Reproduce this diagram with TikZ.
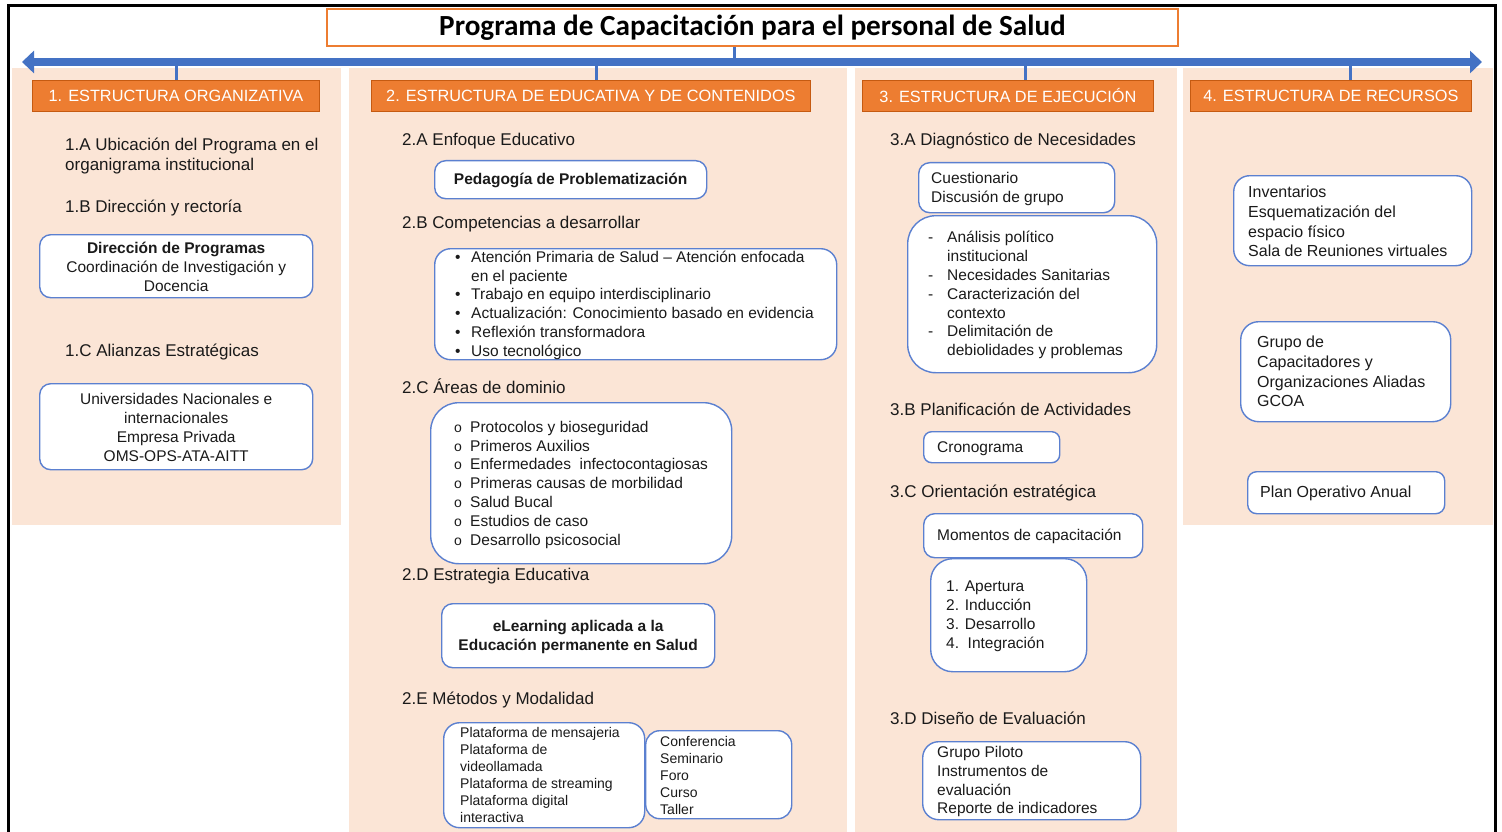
\documentclass[tikz,border=0pt]{standalone}
\usepackage{fontspec}
\setmainfont{Liberation Sans}
\newfontfamily\titlefont{Carlito}
\usetikzlibrary{arrows.meta}
\definecolor{peach}{HTML}{FBE5D6}
\definecolor{orng}{HTML}{ED7D31}
\definecolor{orngdk}{HTML}{C55A11}
\definecolor{bblue}{HTML}{4472C4}
\definecolor{bxblue}{HTML}{5B80D0}
\definecolor{txt}{HTML}{1A1A1A}
\begin{document}
\begin{tikzpicture}[x=1pt,y=-1pt,
  colbg/.style={fill=peach, draw=none},
  sec/.style={anchor=base west, inner sep=0pt, font=\fontsize{17}{20}\selectfont, text=txt},
  hdr/.style={draw=orngdk, line width=0.8pt, fill=orng, text=white, font=\fontsize{16.3}{19}\selectfont, inner sep=0pt, anchor=north west, minimum height=31pt},
  bx/.style={draw=bxblue, line width=1.4pt, fill=white, rounded corners=#1, anchor=north west, inner sep=0pt},
  bx/.default=11pt,
  btxt/.style={anchor=west, inner sep=0pt, align=left, font=\fontsize{15.5}{18.8}\selectfont, text=txt},
  ctxt/.style={anchor=center, inner sep=0pt, align=center, font=\fontsize{15.5}{19}\selectfont, text=txt},
  tick/.style={draw=bblue, line width=3pt},
]
\useasboundingbox (0,0) rectangle (1502,832);
\fill[white] (0,0) rectangle (1502,832);
% column backgrounds
\fill[colbg] (12,68) rectangle (341,525);
\fill[colbg] (349,68) rectangle (847,832);
\fill[colbg] (855,68) rectangle (1177,832);
\fill[colbg] (1183,68) rectangle (1493,525);
% frame
\draw[line width=3pt] (8,832) -- (8,6) -- (1495,6) -- (1495,832);
% title
\node[draw=orng, line width=2pt, fill=white, minimum width=851pt, minimum height=37pt, anchor=north west, inner sep=0pt, font=\titlefont\bfseries\fontsize{29.2}{30}\selectfont, text=black] (ttl) at (326,8) {Programa de Capacitación para el personal de Salud};
% headers
\node[hdr, minimum width=287pt] (h1) at (32,80) {1. ESTRUCTURA ORGANIZATIVA};
\node[hdr, minimum width=439pt] (h2) at (371,80) {2. ESTRUCTURA DE EDUCATIVA Y DE CONTENIDOS};
\node[hdr, minimum width=291pt] (h3) at (862,80) {3. ESTRUCTURA DE EJECUCIÓN};
\node[hdr, minimum width=281pt] (h4) at (1190,80) {4. ESTRUCTURA DE RECURSOS};
% arrow and ticks
\coordinate (aL) at (22,62);
\coordinate (aR) at (1482,62);
\coordinate (t0) at (734,62);
\coordinate (t1) at (176,62);
\coordinate (t2) at (596,62);
\coordinate (t3) at (1025,62);
\coordinate (t4) at (1350,62);
\draw[tick] (t0 |- ttl.south) -- (t0);
\draw[tick] (t1) -- (t1 |- h1.north);
\draw[tick] (t2) -- (t2 |- h2.north);
\draw[tick] (t3) -- (t3 |- h3.north);
\draw[tick] (t4) -- (t4 |- h4.north);
\draw[bblue, line width=8pt, {Triangle[width=22pt,length=12pt]}-{Triangle[width=22pt,length=12pt]}] (aL) -- (aR);

% ---------- column 1
\node[sec] (s1a) at (65,150) {1.A Ubicación del Programa en el};
\node[sec] (s1a2) at (65,171) {organigrama institucional};
\node[sec] (s1b) at (65,212) {1.B Dirección y rectoría};
\node[bx, minimum width=273pt, minimum height=63pt] (dir) at (39,234) {};
\node[ctxt] (dirT) at ([yshift=-1pt]dir.center) {\textbf{Dirección de Programas}\\Coordinación de Investigación y\\Docencia};
\node[sec] (s1c) at (65,356) {1.C Alianzas Estratégicas};
\node[bx, minimum width=273pt, minimum height=86pt] (ali) at (39,383) {};
\node[ctxt] (aliT) at ([yshift=-1pt]ali.center) {Universidades Nacionales e\\internacionales\\Empresa Privada\\OMS-OPS-ATA-AITT};

% ---------- column 2
\node[sec] (s2a) at (402,146) {2.A Enfoque Educativo};
\node[bx, minimum width=272pt, minimum height=38pt] (ped) at (434,160) {};
\node[ctxt] (pedT) at ([yshift=-1pt]ped.center) {\textbf{Pedagogía de Problematización}};
\node[sec] (s2b) at (402,228) {2.B Competencias a desarrollar};
\node[bx=16pt, minimum width=402pt, minimum height=111pt] (comp) at (434,248) {};
\node[btxt] (compT) at ([xshift=21pt,yshift=-1pt]comp.west) {%
\makebox[16pt][l]{•}Atención Primaria de Salud – Atención enfocada\\
\hspace*{16pt}en el paciente\\
\makebox[16pt][l]{•}Trabajo en equipo interdisciplinario\\
\makebox[16pt][l]{•}Actualización: Conocimiento basado en evidencia\\
\makebox[16pt][l]{•}Reflexión transformadora\\
\makebox[16pt][l]{•}Uso tecnológico};
\node[sec] (s2c) at (402,393) {2.C Áreas de dominio};
\node[bx=28pt, minimum width=301pt, minimum height=161pt] (areas) at (430,402) {};
\node[btxt] (areasT) at ([xshift=24pt,yshift=-1.5pt]areas.west) {%
\makebox[16pt][l]{\fontsize{14}{14}\selectfont o}Protocolos y bioseguridad\\
\makebox[16pt][l]{\fontsize{14}{14}\selectfont o}Primeros Auxilios\\
\makebox[16pt][l]{\fontsize{14}{14}\selectfont o}Enfermedades\ \ infectocontagiosas\\
\makebox[16pt][l]{\fontsize{14}{14}\selectfont o}Primeras causas de morbilidad\\
\makebox[16pt][l]{\fontsize{14}{14}\selectfont o}Salud Bucal\\
\makebox[16pt][l]{\fontsize{14}{14}\selectfont o}Estudios de caso\\
\makebox[16pt][l]{\fontsize{14}{14}\selectfont o}Desarrollo psicosocial};
\node[sec] (s2d) at (402,580) {2.D Estrategia Educativa};
\node[bx, minimum width=273pt, minimum height=64pt] (elea) at (441,603) {};
\node[ctxt] (eleaT) at ([yshift=-1pt]elea.center) {\textbf{eLearning aplicada a la}\\\textbf{Educación permanente en Salud}};
\node[sec] (s2e) at (402,704) {2.E Métodos y Modalidad};
\node[bx=16pt, minimum width=201pt, minimum height=105pt] (plat) at (443,722) {};
\node[btxt, font=\fontsize{14}{17}\selectfont] (platT) at ([xshift=17pt]plat.west) {Plataforma de mensajeria\\Plataforma de\\videollamada\\Plataforma de streaming\\Plataforma digital\\interactiva};
\node[bx=14pt, minimum width=146pt, minimum height=88pt] (conf) at (645,730) {};
\node[btxt, font=\fontsize{14}{17}\selectfont] (confT) at ([xshift=15pt,yshift=-1pt]conf.west) {Conferencia\\Seminario\\Foro\\Curso\\Taller};

% ---------- column 3
\node[sec] (s3a) at (890,146) {3.A Diagnóstico de Necesidades};
\node[bx, minimum width=196pt, minimum height=50pt] (cuest) at (918,162) {};
\node[btxt, font=\fontsize{15.5}{19}\selectfont] (cuestT) at ([xshift=13pt,yshift=-1pt]cuest.west) {Cuestionario\\Discusión de grupo};
\node[bx=28pt, minimum width=249pt, minimum height=157pt] (anal) at (907,215) {};
\node[btxt] (analT) at ([xshift=21pt,yshift=-1pt]anal.west) {%
\makebox[19pt][l]{-}Análisis político\\
\hspace*{19pt}institucional\\
\makebox[19pt][l]{-}Necesidades Sanitarias\\
\makebox[19pt][l]{-}Caracterización del\\
\hspace*{19pt}contexto\\
\makebox[19pt][l]{-}Delimitación de\\
\hspace*{19pt}debiolidades y problemas};
\node[sec] (s3b) at (890,415) {3.B Planificación de Actividades};
\node[bx=8pt, minimum width=136pt, minimum height=31pt] (crono) at (923,431) {};
\node[btxt] (cronoT) at ([xshift=14pt,yshift=-1pt]crono.west) {Cronograma};
\node[sec] (s3c) at (890,497) {3.C Orientación estratégica};
\node[bx, minimum width=219pt, minimum height=44pt] (mom) at (923,513) {};
\node[btxt] (momT) at ([xshift=14pt,yshift=-1pt]mom.west) {Momentos de capacitación};
\node[bx=22pt, minimum width=156pt, minimum height=113pt] (fases) at (930,558) {};
\node[btxt, font=\fontsize{15.5}{19}\selectfont] (fasesT) at ([xshift=16pt,yshift=-1pt]fases.west) {1. Apertura\\2. Inducción\\3. Desarrollo\\4.\ \ Integración};
\node[sec] (s3d) at (890,724) {3.D Diseño de Evaluación};
\node[bx=16pt, minimum width=218pt, minimum height=78pt] (eval) at (922,741) {};
\node[btxt] (evalT) at ([xshift=15pt,yshift=-1pt]eval.west) {Grupo Piloto\\Instrumentos de\\evaluación\\Reporte de indicadores};

% ---------- column 4
\node[bx=16pt, minimum width=238pt, minimum height=90pt] (inv) at (1233,175) {};
\node[btxt, font=\fontsize{16}{19.7}\selectfont] (invT) at ([xshift=15pt,yshift=-1pt]inv.west) {Inventarios\\Esquematización del\\espacio físico\\Sala de Reuniones virtuales};
\node[bx=18pt, minimum width=210pt, minimum height=100pt] (grupo) at (1240,321) {};
\node[btxt, font=\fontsize{16}{19.7}\selectfont] (grupoT) at ([xshift=17pt]grupo.west) {Grupo de\\Capacitadores y\\Organizaciones Aliadas\\GCOA};
\node[bx=9pt, minimum width=197pt, minimum height=42pt] (poa) at (1247,471) {};
\node[btxt, font=\fontsize{16}{19.7}\selectfont] (poaT) at ([xshift=13pt,yshift=-1pt]poa.west) {Plan Operativo Anual};
\end{tikzpicture}
\end{document}
